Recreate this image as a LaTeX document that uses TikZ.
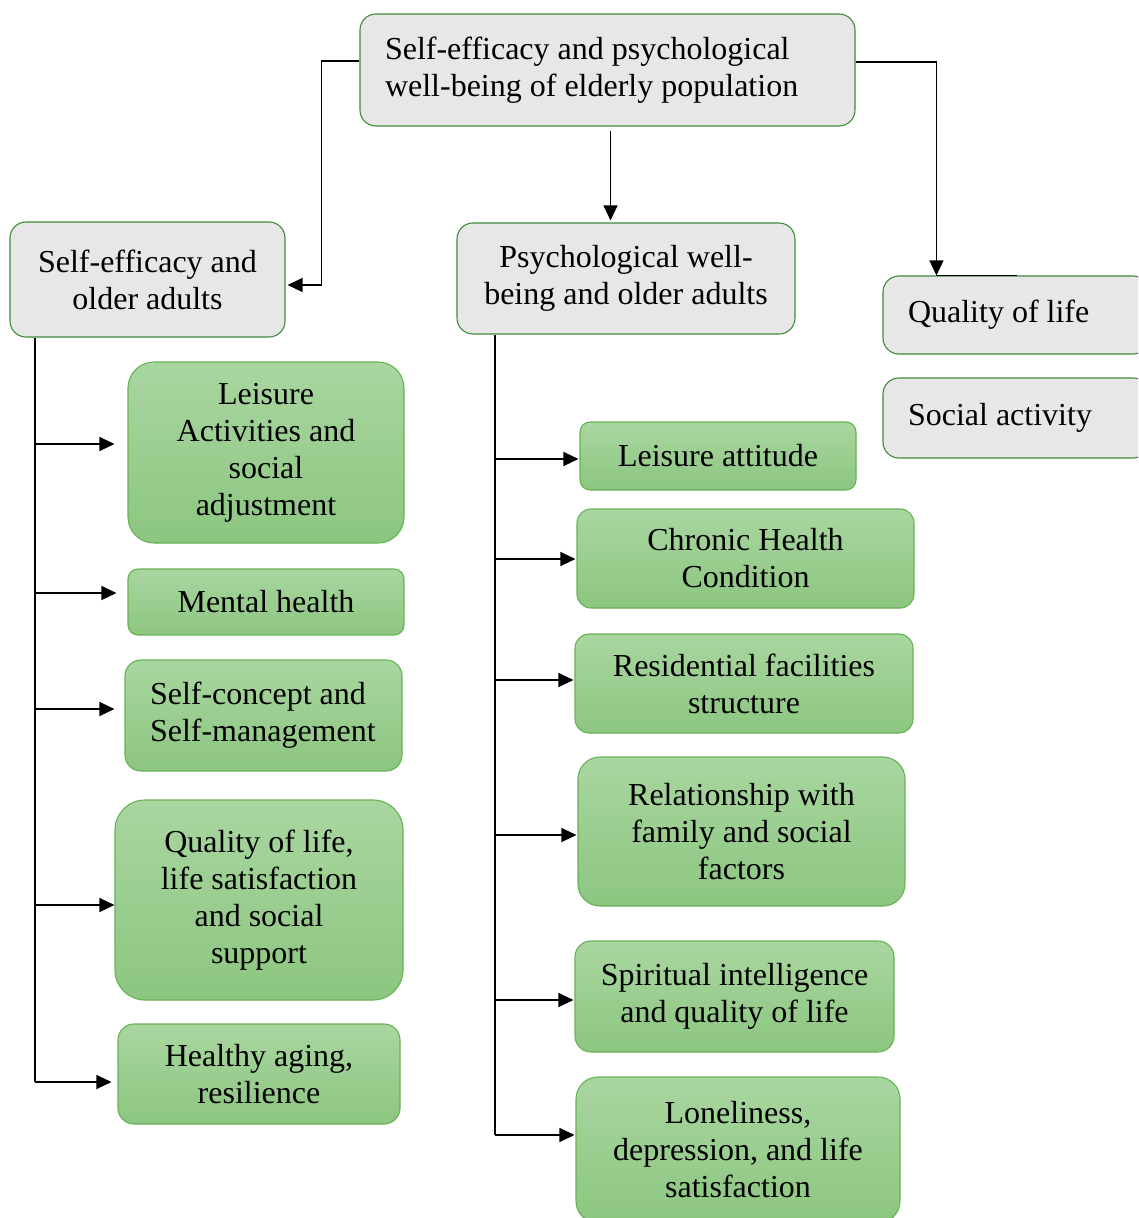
\documentclass[tikz,border=0pt]{standalone}
\usepackage{fontspec}
\setmainfont{Liberation Serif}
\usetikzlibrary{arrows.meta}
\definecolor{boxgray}{HTML}{E7E7E7}
\definecolor{graydraw}{HTML}{3E8B3A}
\definecolor{greentop}{HTML}{A9D6A0}
\definecolor{greenbot}{HTML}{8CC680}
\definecolor{greendraw}{HTML}{66B255}
\begin{document}
\begin{tikzpicture}[x=1pt,y=-1pt,
  every node/.style={font=\fontsize{32}{37}\selectfont, inner sep=0pt, align=center},
  leftbox/.style={text width=#1, inner xsep=25pt, align=left,
    execute at begin node={\spaceskip=0pt\xspaceskip=0pt}},
  graybox/.style={draw=graydraw, fill=boxgray, line width=1.1pt, rounded corners=16pt},
  greenbox/.style={draw=greendraw, top color=greentop, bottom color=greenbot, line width=1.1pt, rounded corners=#1},
  greenbox/.default=14pt,
  conn/.style={line width=1.2pt},
  arr/.style={conn, -{Triangle[length=15pt,width=14pt]}}]
\useasboundingbox (0,0) rectangle (1138,1218);
\clip (0,0) rectangle (1138,1218);
% top level
\node[graybox, minimum width=495pt, minimum height=112pt, leftbox=445pt] (top) at (607.5,70) {Self-efficacy and psychological\\well-being of elderly population};
\node[graybox, minimum width=275pt, minimum height=115pt] (left) at (147.5,279.5) {Self-efficacy and\\older adults};
\node[graybox, minimum width=338pt, minimum height=111pt] (mid) at (626,278.5) {Psychological well-\\being and older adults};
\node[graybox, minimum width=266pt, minimum height=78pt, leftbox=216pt] (qol) at (1016,315) {Quality of life};
\node[graybox, minimum width=266pt, minimum height=80pt, leftbox=216pt] (social) at (1016,418) {Social activity};
% left column
\node[greenbox=26pt, minimum width=276pt, minimum height=181pt] (l1) at (266,452.5) {Leisure\\Activities and\\social\\adjustment};
\node[greenbox=10pt, minimum width=276pt, minimum height=66pt] (l2) at (266,602) {Mental health};
\node[greenbox=16pt, minimum width=277pt, minimum height=111pt, leftbox=227pt] (l3) at (263.5,715.5) {Self-concept and\\Self-management};
\node[greenbox=30pt, minimum width=288pt, minimum height=200pt] (l4) at (259,900) {Quality of life,\\life satisfaction\\and social\\support};
\node[greenbox=16pt, minimum width=282pt, minimum height=100pt] (l5) at (259,1074) {Healthy aging,\\resilience};
% middle column
\node[greenbox=10pt, minimum width=276pt, minimum height=68pt] (m1) at (718,456) {Leisure attitude};
\node[greenbox=14pt, minimum width=337pt, minimum height=99pt] (m2) at (745.5,558.5) {Chronic Health\\Condition};
\node[greenbox=14pt, minimum width=338pt, minimum height=99pt] (m3) at (744,683.5) {Residential facilities\\structure};
\node[greenbox=22pt, minimum width=327pt, minimum height=149pt] (m4) at (741.5,831.5) {Relationship with\\family and social\\factors};
\node[greenbox=16pt, minimum width=319pt, minimum height=111pt] (m5) at (734.5,996.5) {Spiritual intelligence\\and quality of life};
\node[greenbox=22pt, minimum width=324pt, minimum height=146pt] (m6) at (738,1150) {Loneliness,\\depression, and life\\satisfaction};
% connectors from the top box
\draw[arr, shorten >=2pt] ([yshift=9pt]top.west) -- ++(-38,0) |- ([yshift=-5.5pt]left.east);
\draw[arr, shorten <=4pt, shorten >=2pt] ([xshift=3pt]top.south) -- ([xshift=3pt]top.south |- mid.north);
\draw[arr] ([yshift=8pt]top.east) -| ([xshift=54pt]qol.north west);
\draw[conn] ([xshift=54pt]qol.north west) -- ([xshift=135pt]qol.north west);
% trunks
\coordinate (tl) at (35,1082);
\coordinate (tm) at (495,1135);
\draw[conn] (left.south -| tl) -- (tl);
\draw[conn] (mid.south -| tm) -- (tm);
\foreach \n/\d/\s in {l1/8.5/13,l2/9/11,l3/6.5/10,l4/-5/0,l5/-8/6}
  \draw[arr, shorten >=\s pt] ([yshift=\d pt]\n.west -| tl) -- ([yshift=\d pt]\n.west);
\foreach \n/\d in {m1/-3,m2/-0.5,m3/3.5,m4/-3.5,m5/-3.5,m6/15}
  \draw[arr, shorten >=1pt] ([yshift=\d pt]\n.west -| tm) -- ([yshift=\d pt]\n.west);
\end{tikzpicture}
\end{document}
